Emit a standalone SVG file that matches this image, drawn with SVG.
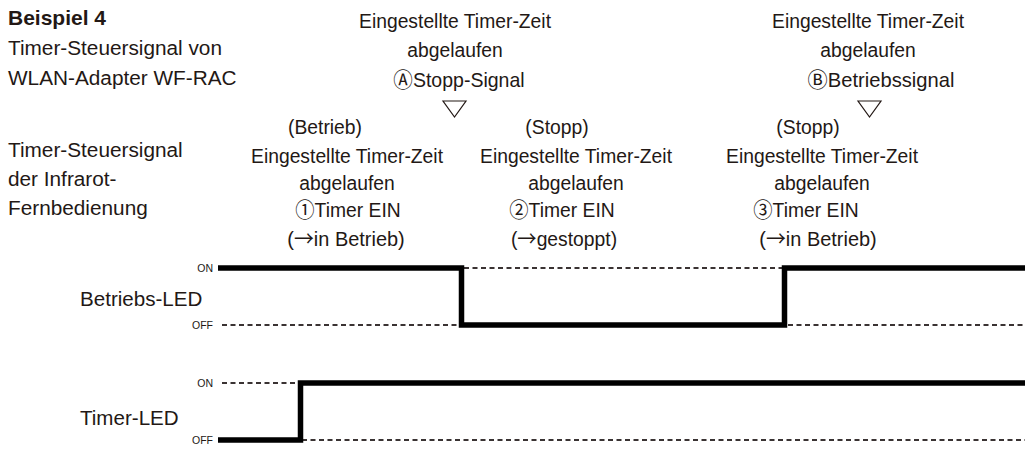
<svg xmlns="http://www.w3.org/2000/svg" width="1025" height="452" viewBox="0 0 1025 452">
<style>
text{font-family:"Liberation Sans","Noto Sans CJK JP",sans-serif;fill:#231815;font-size:21px}
.c{text-anchor:middle}
.b{font-weight:bold}
.s{font-size:10.5px}
.j{font-family:"Noto Sans CJK JP",sans-serif}
.thick{stroke:#000;stroke-width:5.5;fill:none;stroke-linejoin:miter}
.dash{stroke:#3a3333;stroke-width:2;stroke-dasharray:5 3.5;fill:none}
.tri{fill:none;stroke:#231815;stroke-width:1.2}
</style>
<rect width="1025" height="452" fill="#fff"/>
<g id="title">
<text x="8" y="25" class="b">Beispiel 4</text>
<text transform="matrix(0.99 0 0 1 8 55)">Timer-Steuersignal von</text>
<text transform="matrix(0.99 0 0 1 8 85)">WLAN-Adapter WF-RAC</text>
</g>
<g id="wlan-signal-A">
<text transform="matrix(0.92 0 0 1 455 28)" class="c">Eingestellte Timer-Zeit</text>
<text transform="matrix(0.92 0 0 1 455 57)" class="c">abgelaufen</text>
<text transform="matrix(0.93 0 0 1 459 87)" class="c"><tspan class="j">Ⓐ</tspan>Stopp-Signal</text>
<polygon class="tri" points="443,101 466,101 454.5,117"/>
</g>
<g id="wlan-signal-B">
<text transform="matrix(0.92 0 0 1 868 28)" class="c">Eingestellte Timer-Zeit</text>
<text transform="matrix(0.92 0 0 1 868 57)" class="c">abgelaufen</text>
<text transform="matrix(0.96 0 0 1 881 87)" class="c"><tspan class="j">Ⓑ</tspan>Betriebssignal</text>
<polygon class="tri" points="858,101 881,101 869.5,117"/>
</g>
<g id="ir-label">
<text transform="matrix(0.99 0 0 1 8 157)">Timer-Steuersignal</text>
<text transform="matrix(0.99 0 0 1 8 186)">der Infrarot-</text>
<text transform="matrix(0.99 0 0 1 8 215)">Fernbedienung</text>
</g>
<g id="ir-signal-1">
<text transform="matrix(0.92 0 0 1 325 134)" class="c">(Betrieb)</text>
<text transform="matrix(0.92 0 0 1 347 163)" class="c">Eingestellte Timer-Zeit</text>
<text transform="matrix(0.92 0 0 1 347 190)" class="c">abgelaufen</text>
<text transform="matrix(0.92 0 0 1 348 217)" class="c"><tspan class="j">①</tspan>Timer EIN</text>
<text transform="matrix(0.95 0 0 1 346 246)" class="c">(<tspan class="j">→</tspan>in Betrieb)</text>
</g>
<g id="ir-signal-2">
<text transform="matrix(0.92 0 0 1 557 134)" class="c">(Stopp)</text>
<text transform="matrix(0.92 0 0 1 576 163)" class="c">Eingestellte Timer-Zeit</text>
<text transform="matrix(0.92 0 0 1 576 190)" class="c">abgelaufen</text>
<text transform="matrix(0.92 0 0 1 562 217)" class="c"><tspan class="j">②</tspan>Timer EIN</text>
<text transform="matrix(0.92 0 0 1 564 246)" class="c">(<tspan class="j">→</tspan>gestoppt)</text>
</g>
<g id="ir-signal-3">
<text transform="matrix(0.92 0 0 1 808 134)" class="c">(Stopp)</text>
<text transform="matrix(0.92 0 0 1 822 163)" class="c">Eingestellte Timer-Zeit</text>
<text transform="matrix(0.92 0 0 1 822 190)" class="c">abgelaufen</text>
<text transform="matrix(0.92 0 0 1 806 217)" class="c"><tspan class="j">③</tspan>Timer EIN</text>
<text transform="matrix(0.95 0 0 1 818 246)" class="c">(<tspan class="j">→</tspan>in Betrieb)</text>
</g>
<g id="betriebs-led">
<text transform="matrix(0.98 0 0 1 80 306)">Betriebs-LED</text>
<text x="213" y="272" class="s" text-anchor="end">ON</text>
<text x="213" y="329" class="s" text-anchor="end">OFF</text>
</g>
<g id="timer-led">
<text transform="matrix(0.98 0 0 1 80 425)">Timer-LED</text>
<text x="213" y="387" class="s" text-anchor="end">ON</text>
<text x="213" y="444" class="s" text-anchor="end">OFF</text>
</g>
<g id="connectors">
<path class="dash" d="M222 325H460M464 268H782M788 325H1025"/>
<path class="thick" d="M218 268H461.5V325H784.5V268H1025"/>
<path class="dash" d="M222 383H298M302 440H1025"/>
<path class="thick" d="M218 440H300.5V383H1025"/>
</g>
</svg>
